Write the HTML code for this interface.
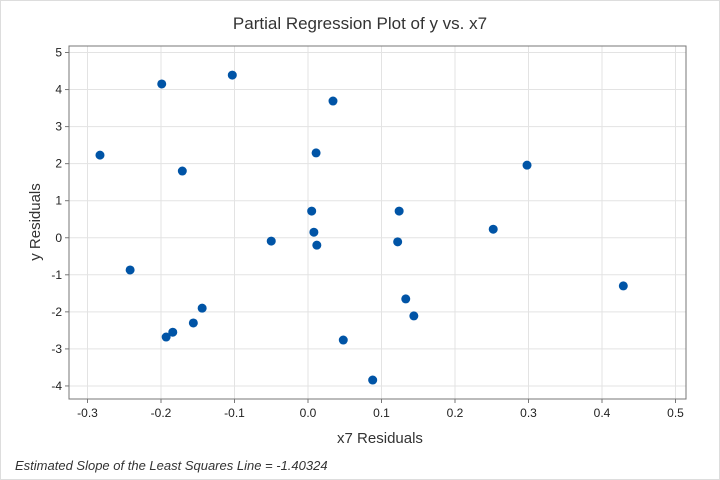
<!DOCTYPE html>
<html><head><meta charset="utf-8"><style>
body{margin:0;background:#fff;}
svg{display:block;font-family:"Liberation Sans",sans-serif;}
</style></head><body>
<svg id="chart" width="720" height="480">
<rect x="0.5" y="0.5" width="719" height="479" fill="#fff" stroke="#ddd"/>
<text x="360" y="29" text-anchor="middle" font-size="17" fill="#333">Partial Regression Plot of y vs. x7</text>
<text x="380" y="443" text-anchor="middle" font-size="15" fill="#333">x7 Residuals</text>
<text transform="translate(40,222) rotate(-90)" text-anchor="middle" font-size="15" fill="#333">y Residuals</text>
<text x="15" y="470" font-size="13" font-style="italic" fill="#333">Estimated Slope of the Least Squares Line = -1.40324</text>
<g id="grid"></g><g id="axes"></g><g id="pts"></g>
</svg>
<script>
const xTicks=[-0.3,-0.2,-0.1,0.0,0.1,0.2,0.3,0.4,0.5];
const yTicks=[5,4,3,2,1,0,-1,-2,-3,-4];
const xVals=[-0.283,-0.199,-0.103,-0.171,0.034,0.011,0.005,0.008,0.012,-0.050,-0.242,-0.193,-0.184,-0.156,-0.144,0.048,0.088,0.124,0.122,0.133,0.144,0.252,0.298,0.429];
const yVals=[2.23,4.15,4.39,1.80,3.69,2.29,0.72,0.15,-0.20,-0.09,-0.87,-2.68,-2.55,-2.30,-1.90,-2.76,-3.84,0.72,-0.11,-1.65,-2.11,0.23,1.96,-1.30];
const L=69,R=686,T=46,B=399;
const sx=v=>308+v*735, sy=v=>237.75-v*37.05;
const ns="http://www.w3.org/2000/svg";
function mk(t,a,p){const e=document.createElementNS(ns,t);for(const k in a)e.setAttribute(k,a[k]);p.appendChild(e);return e;}
const g=document.getElementById('grid'),ax=document.getElementById('axes'),pt=document.getElementById('pts');
xTicks.forEach(v=>{const x=sx(v);
const l=mk('line',{x1:x,x2:x,y1:T,y2:B,stroke:'#e3e3e3'},g);


mk('line',{x1:x,x2:x,y1:B,y2:B+4,stroke:'#777'},ax);
const t=mk('text',{x:x,y:B+18,'text-anchor':'middle','font-size':12,fill:'#222'},ax);t.textContent=v.toFixed(1);

});
yTicks.forEach(v=>{const y=sy(v);
const l=mk('line',{x1:L,x2:R,y1:y,y2:y,stroke:'#e3e3e3'},g);


mk('line',{x1:L-4,x2:L,y1:y,y2:y,stroke:'#777'},ax);
const t=mk('text',{x:L-7,y:y+4,'text-anchor':'end','font-size':12,fill:'#222'},ax);t.textContent=v;

});
const fr=mk('rect',{x:L,y:T,width:R-L,height:B-T,fill:'none',stroke:'#777'},ax);


xVals.forEach((v,i)=>{const c=mk('circle',{cx:sx(v),cy:sy(yVals[i]),r:4.5,fill:'#0054a6'},pt);

});
</script>
</body></html>
